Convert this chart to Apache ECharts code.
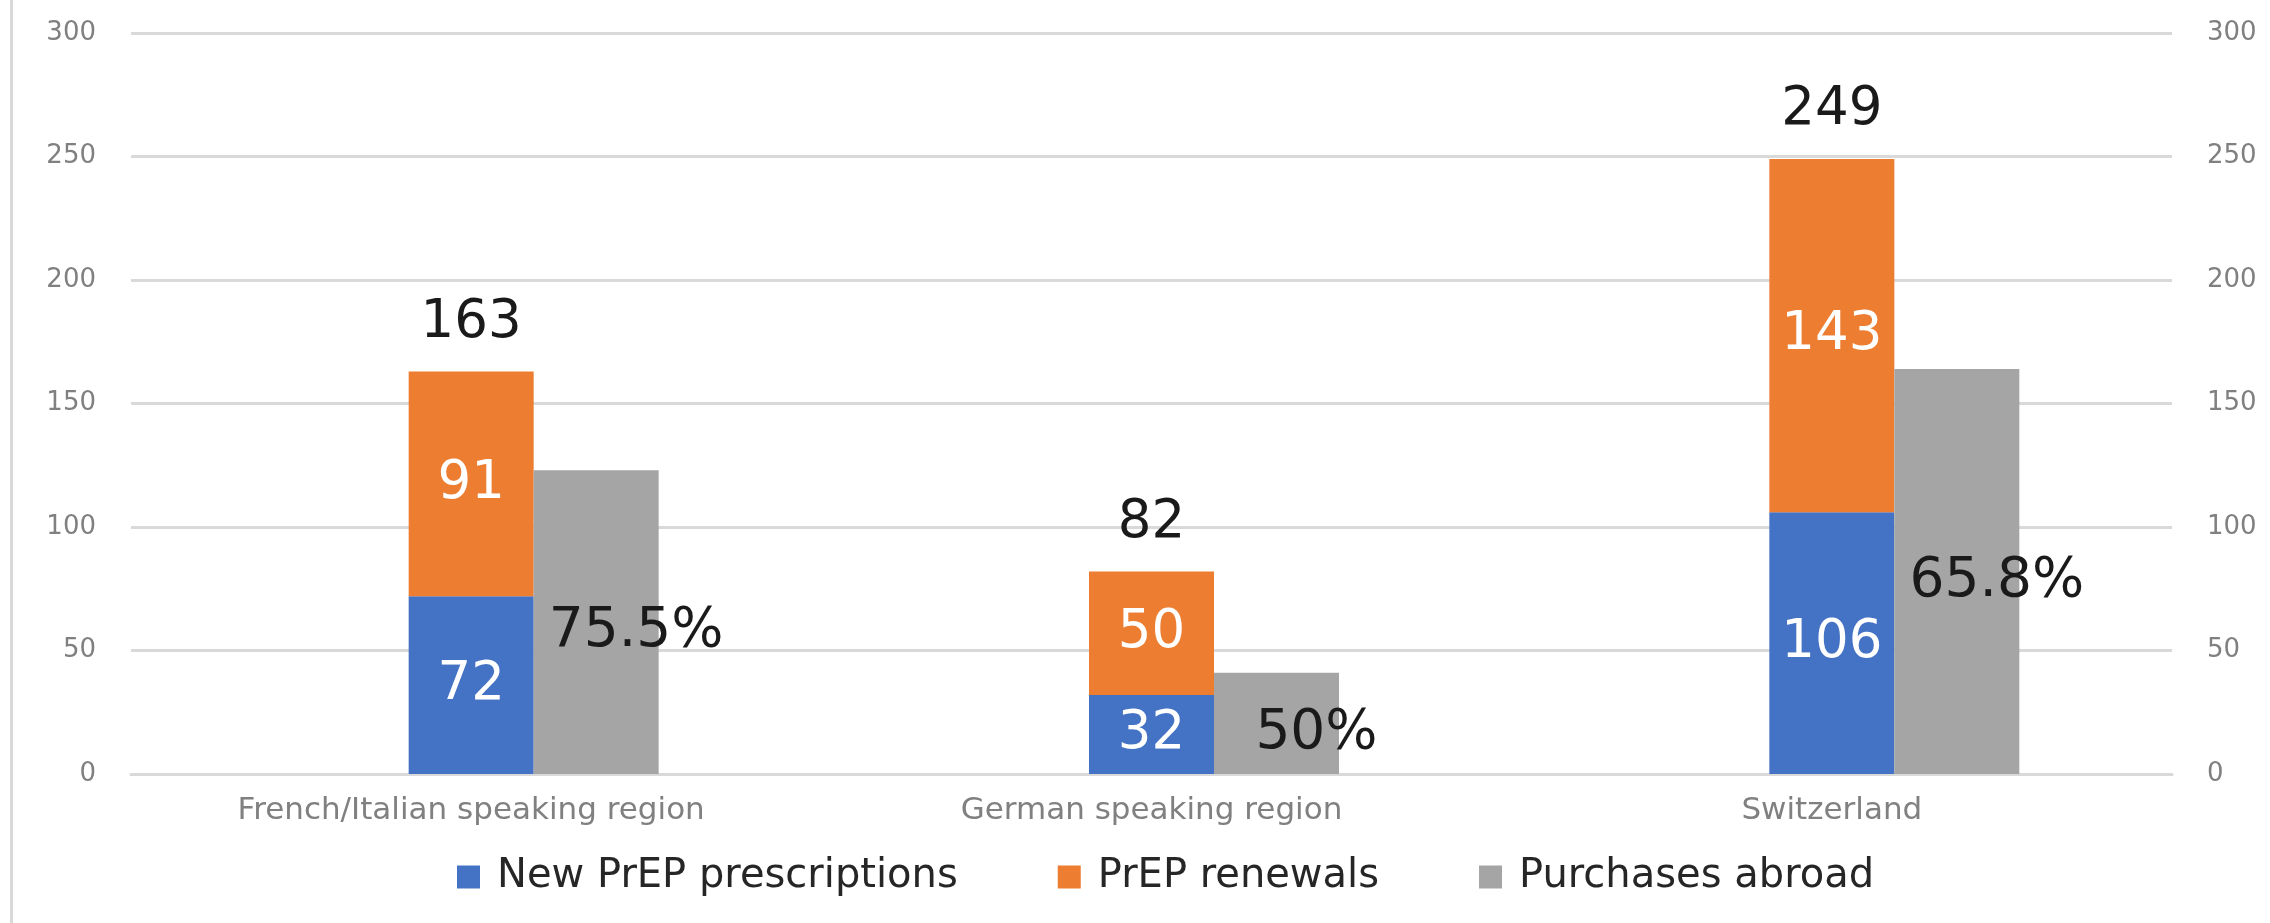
<!DOCTYPE html>
<html>
<head>
<meta charset="utf-8">
<script src="https://cdn.jsdelivr.net/npm/echarts@6/dist/echarts.min.js"></script>
<style>
  html, body { margin: 0; padding: 0; background: #ffffff; }
  #chart { width: 2270px; height: 923px; }
</style>
</head>
<body>
<div id="chart"></div>
<script>
// ---- data ----
const categories = ['French/Italian speaking region', 'German speaking region', 'Switzerland'];
const newPrescriptions = [72, 32, 106];
const renewals = [91, 50, 143];
const purchasesAbroad = [123, 41, 164];
const abroadShareLabels = ['75.5%', '50%', '65.8%'];
const yMin = 0, yMax = 300, yInterval = 50;
const seriesNames = ['New PrEP prescriptions', 'PrEP renewals', 'Purchases abroad'];

// ---- derived ----
const totals = newPrescriptions.map((v, i) => v + renewals[i]);
const FONT = 'DejaVu Sans';
const BAR_W = 125;
const LABEL_SIZE = 53;

const chart = echarts.init(document.getElementById('chart'), null, { renderer: 'canvas' });

const yAxisCommon = {
  type: 'value', min: yMin, max: yMax, interval: yInterval,
  axisLine: { show: false }, axisTick: { show: false },
  axisLabel: { color: '#808080', fontFamily: FONT, fontSize: 26, margin: 35 }
};

const option = {
  backgroundColor: '#ffffff',
  animation: false,
  graphic: [{
    type: 'rect', left: 10, top: 0,
    shape: { width: 3, height: 923 },
    style: { fill: '#d9d9d9' }, silent: true
  }],
  grid: { left: 131, right: 98, top: 33, bottom: 149 },
  legend: {
    data: seriesNames,
    left: 452, top: 852,
    icon: 'rect', itemWidth: 23, itemHeight: 23, itemGap: 100,
    textStyle: { fontFamily: FONT, fontSize: 40, color: '#262626', padding: [0, 0, 0, 12] }
  },
  xAxis: {
    type: 'category', data: categories,
    axisLine: { show: true, lineStyle: { color: '#d9d9d9', width: 3 } },
    axisTick: { show: false },
    axisLabel: { color: '#808080', fontFamily: FONT, fontSize: 31, margin: 21 }
  },
  yAxis: [
    Object.assign({}, yAxisCommon, {
      position: 'left',
      splitLine: { show: true, lineStyle: { color: '#d9d9d9', width: 3 } }
    }),
    Object.assign({}, yAxisCommon, {
      position: 'right',
      splitLine: { show: false }
    })
  ],
  series: [
    {
      name: 'spacer', type: 'bar', data: categories.map(() => '-'),
      barWidth: BAR_W, barGap: '0%', silent: true
    },
    {
      name: seriesNames[0], type: 'bar', stack: 'prep', data: newPrescriptions,
      barWidth: BAR_W, barGap: '0%',
      itemStyle: { color: '#4472C4' },
      label: { show: true, position: 'inside', color: '#ffffff', fontFamily: FONT, fontSize: LABEL_SIZE }
    },
    {
      name: seriesNames[1], type: 'bar', stack: 'prep', data: renewals,
      barWidth: BAR_W,
      itemStyle: { color: '#ED7D31' },
      label: { show: true, position: 'inside', color: '#ffffff', fontFamily: FONT, fontSize: LABEL_SIZE }
    },
    {
      name: 'total', type: 'bar', stack: 'prep', data: categories.map(() => 0),
      barWidth: BAR_W,
      itemStyle: { color: 'rgba(0,0,0,0)' }, silent: true,
      label: {
        show: true, position: 'top', distance: 22,
        color: '#1a1a1a', fontFamily: FONT, fontSize: LABEL_SIZE,
        formatter: p => String(totals[p.dataIndex])
      }
    },
    {
      name: seriesNames[2], type: 'bar', data: purchasesAbroad,
      barWidth: BAR_W, barGap: '0%',
      itemStyle: { color: '#A5A5A5' },
      label: {
        show: true, position: 'inside', offset: [40, 10],
        color: '#1a1a1a', fontFamily: FONT, fontSize: 55,
        formatter: p => abroadShareLabels[p.dataIndex]
      }
    }
  ]
};

chart.setOption(option);
</script>
</body>
</html>
